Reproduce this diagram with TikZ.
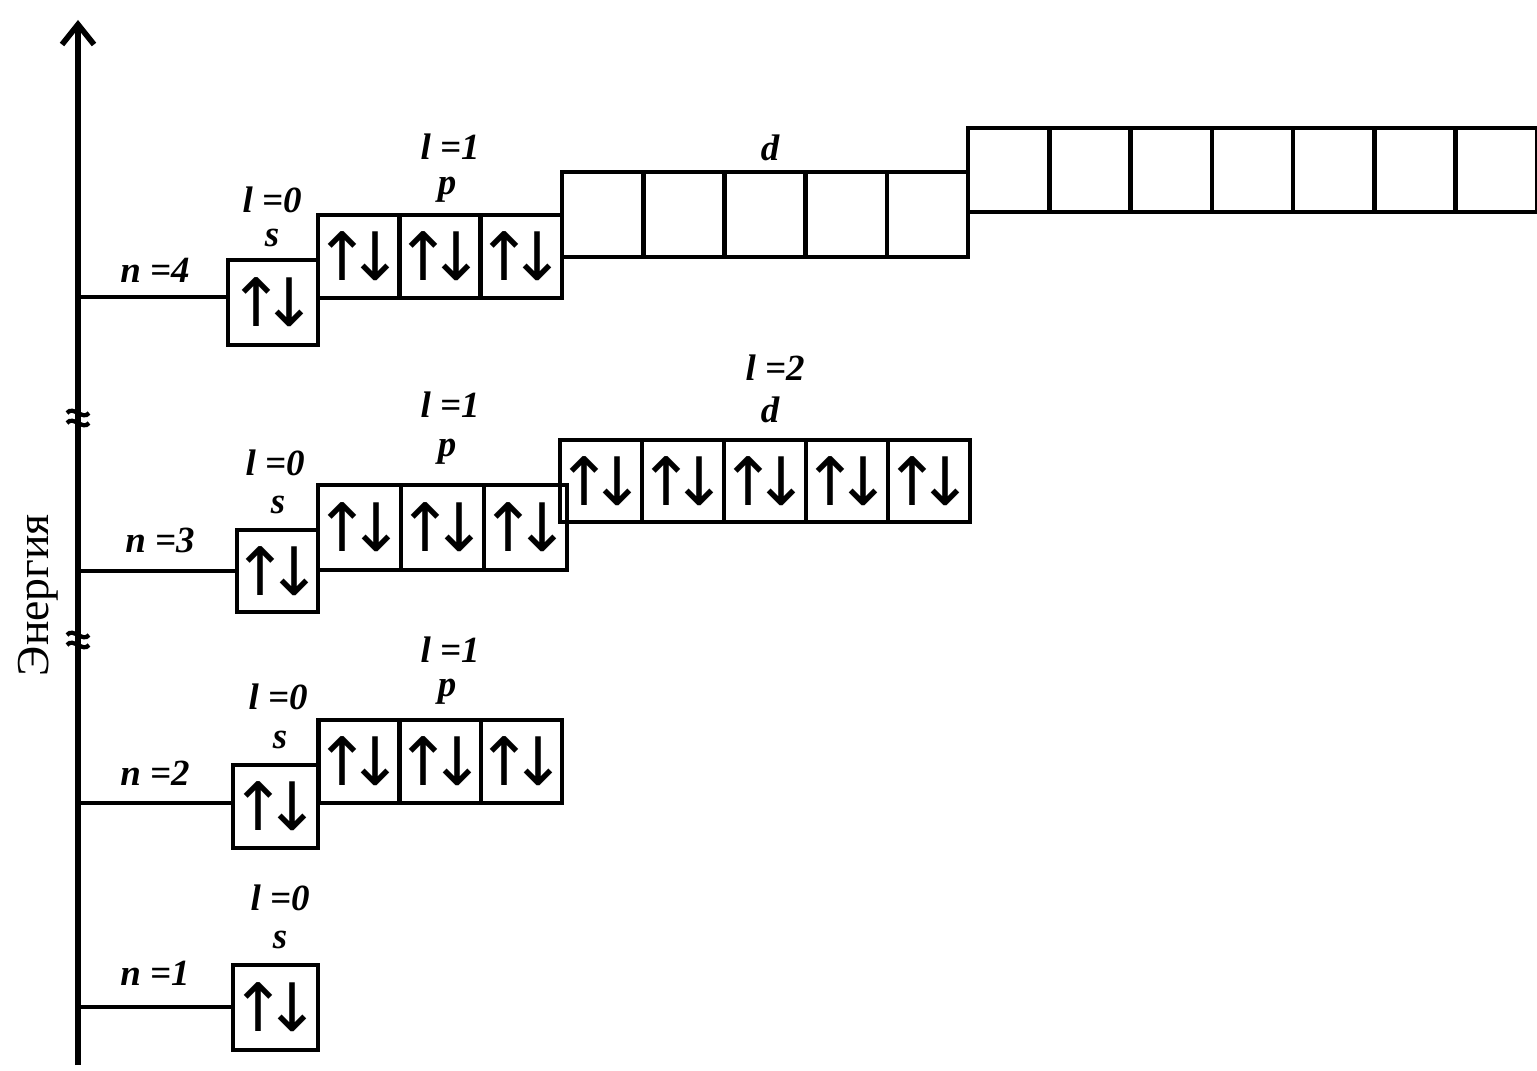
\documentclass[tikz,border=0pt]{standalone}
\usepackage{fontspec}
\setmainfont{Liberation Serif}
\newfontfamily\arrfont{DejaVu Sans}
\usetikzlibrary{arrows.meta}
\begin{document}
\begin{tikzpicture}[x=0.01cm,y=-0.01cm]
\tikzset{
 orb/.style={draw, line width=1.3pt, inner sep=0pt, font=\arrfont\fontsize{19}{19}\selectfont},
 sz/.style 2 args={minimum width=#1, minimum height=#2},
 lvl/.style={line width=1.2pt},
 axisline/.style={line width=1.8pt},
 brk/.style={line width=1.2pt},
 lab/.style={font=\fontsize{10.5}{10.5}\selectfont\bfseries\itshape, inner sep=0pt},
 ax/.style={font=\fontsize{13}{13}\selectfont, inner sep=0pt, rotate=90},
}
\useasboundingbox (0,0) rectangle (1537,1070);
\def\ud{\makebox[0pt][c]{↑\kern-6.5pt↓}}
% axis
\coordinate (axb) at (78,1065);
\coordinate (axt) at (78,20);
\draw[axisline, -{Straight Barb[length=0.2cm, width=0.32cm, line width=1.6pt]}] (axb) -- (axt);
\node[ax] (en) at (38,595) {Энергия};
% break marks
\foreach \yy in {418,640} {
  \draw[brk] (67,\yy-5) .. controls (73,\yy-13) and (83,\yy+3) .. (89,\yy-5);
  \draw[brk] (67,\yy+5) .. controls (73,\yy-3) and (83,\yy+13) .. (89,\yy+5);
}
% ---- n = 1
\node[orb, sz={0.85cm}{0.85cm}] (s1) at (275.5,1007.5) {\ud};
\coordinate (a1) at (78,1007);
\draw[lvl] (a1) -- (a1 -| s1.west);
\node[lab] (n1) at (155,973) {n =1};
\node[lab] (l10) at (280,898) {l =0};
\node[lab] (s1l) at (280,940) {s};
% ---- n = 2
\node[orb, sz={0.85cm}{0.83cm}] (s2) at (275.5,806.5) {\ud};
\foreach \i/\x in {1/359,2/440.5,3/521.5}
  \node[orb, sz={0.81cm}{0.83cm}] (p2\i) at (\x,761.5) {\ud};
\coordinate (a2) at (78,803);
\draw[lvl] (a2) -- (a2 -| s2.west);
\node[lab] (n2) at (155,773) {n =2};
\node[lab] (l20) at (278,697) {l =0};
\node[lab] (s2l) at (280,740) {s};
\node[lab] (l21) at (450,650) {l =1};
\node[lab] (p2l) at (447,692) {p};
% ---- n = 3
\node[orb, sz={0.81cm}{0.82cm}] (s3) at (277.5,571) {\ud};
\foreach \i/\x in {1/359.5,2/442.5,3/525.5}
  \node[orb, sz={0.83cm}{0.85cm}] (p3\i) at (\x,527.5) {\ud};
\foreach \i/\x in {1/601,2/683,3/765,4/847,5/929}
  \node[orb, sz={0.82cm}{0.82cm}] (d3\i) at (\x,481) {\ud};
\coordinate (a3) at (78,571);
\draw[lvl] (a3) -- (a3 -| s3.west);
\node[lab] (n3) at (160,540) {n =3};
\node[lab] (l30) at (275,463) {l =0};
\node[lab] (s3l) at (278,505) {s};
\node[lab] (l31) at (450,405) {l =1};
\node[lab] (p3l) at (447,452) {p};
\node[lab] (l32) at (775,368) {l =2};
\node[lab] (d3l) at (770,410) {d};
% ---- n = 4
\node[orb, sz={0.90cm}{0.85cm}] (s4) at (273,302.5) {\ud};
\foreach \i/\x in {1/358.7,2/440,3/521.3}
  \node[orb, sz={0.813cm}{0.83cm}] (p4\i) at (\x,256.5) {\ud};
\foreach \i/\x in {1/602.6,2/683.8,3/765,4/846.2,5/927.4}
  \node[orb, sz={0.812cm}{0.85cm}] (d4\i) at (\x,214.5) {};
\foreach \i/\x in {1/1008.6,2/1089.9,3/1171.2,4/1252.5,5/1333.8,6/1415.1,7/1496.4}
  \node[orb, sz={0.813cm}{0.84cm}] (f4\i) at (\x,170) {};
\coordinate (a4) at (78,297);
\draw[lvl] (a4) -- (a4 -| s4.west);
\node[lab] (n4) at (155,270) {n =4};
\node[lab] (l40) at (272,200) {l =0};
\node[lab] (s4l) at (272,238) {s};
\node[lab] (l41) at (450,147) {l =1};
\node[lab] (p4l) at (447,190) {p};
\node[lab] (d4l) at (770,148) {d};
\end{tikzpicture}
\end{document}
